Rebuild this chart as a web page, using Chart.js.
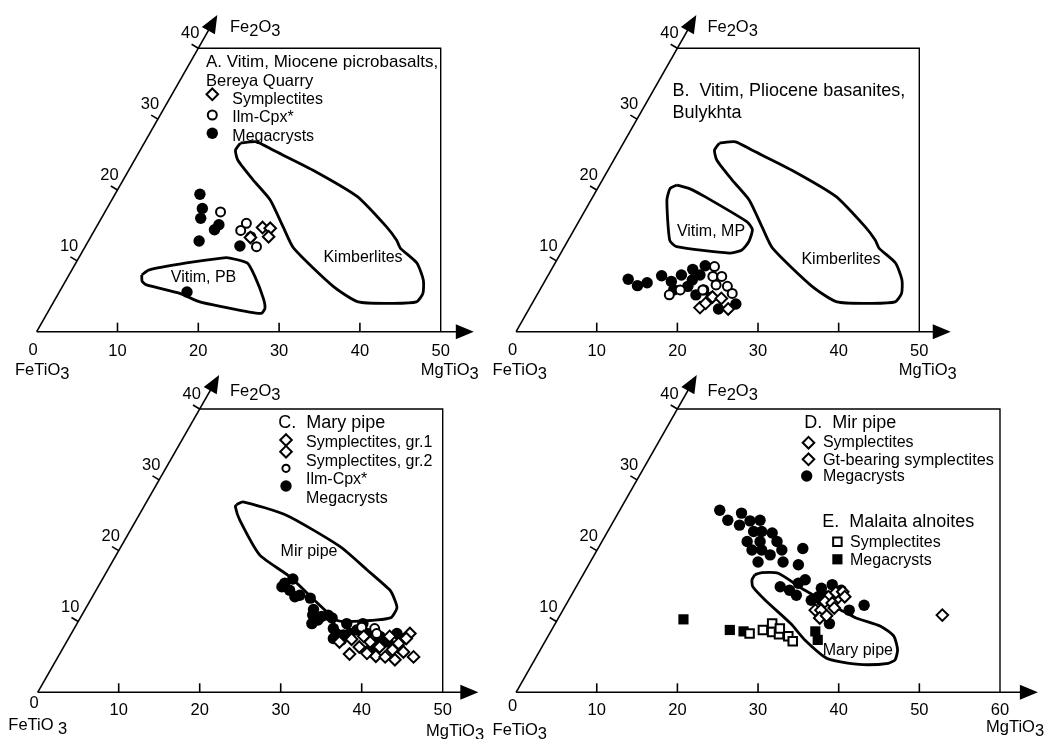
<!DOCTYPE html>
<html><head><meta charset="utf-8">
<script src="https://cdn.jsdelivr.net/npm/chart.js@4.4.1/dist/chart.umd.min.js"></script>
<style>
html,body{margin:0;padding:0;background:#fff;width:1046px;height:739px;overflow:hidden}
canvas{position:absolute;left:0;top:0}
</style></head><body>
<canvas id="cA" width="1046" height="739"></canvas>
<canvas id="cB" width="1046" height="739"></canvas>
<canvas id="cC" width="1046" height="739"></canvas>
<canvas id="cD" width="1046" height="739"></canvas>
<script>
// ---- tick labels ----
const xTicks50 = [0, 10, 20, 30, 40, 50];
const xTicks60 = [0, 10, 20, 30, 40, 50, 60];
const slantTicks = [10, 20, 30, 40];

// ---- values: [MgTiO3, Fe2O3] ----
// Panel A
const kimberlites = [[11.9,26.6],[13.8,26.8],[16.5,25.6],[22.8,22.8],[30.1,19.1],[35.9,14.8],[38.1,12.9],[39.1,11.8],[42.2,9.7],[44.2,7.3],[45.1,5.4],[44.9,4.2],[42.1,4.0],[37.7,4.2],[33.5,6.4],[25.9,11.8],[23.1,14.8],[19.6,18.6],[16.1,21.4],[12.8,24.2],[11.8,25.6]];
const vitimPB = [[9.0,8.0],[9.5,8.7],[13.7,9.7],[17.7,10.4],[18.7,10.4],[21.2,9.7],[23.1,7.8],[25.7,4.7],[26.6,3.3],[26.5,2.6],[24.8,2.8],[21.3,3.5],[18.1,4.2],[15.0,5.4],[10.3,6.6],[9.5,7.1]];
const aSymplectites = [[20.6,14.7],[21.6,14.6],[22.0,13.4],[19.8,13.3]];
const aIlmCpx = [[14.3,16.9],[18.3,15.3],[18.1,14.3],[19.8,13.4],[21.2,12.0]];
const aMegacrysts = [[10.5,19.4],[11.8,17.4],[12.3,16.0],[15.0,15.1],[14.8,14.4],[13.7,12.8],[19.1,12.1],[15.8,5.6]];
// Panel B
const vitimMP = [[9.6,20.7],[11.4,20.2],[13.8,19.1],[20.9,15.5],[22.1,14.4],[22.5,12.7],[22.2,11.5],[20.9,11.1],[13.9,12.0],[12.6,12.9],[9.4,18.6],[9.0,20.2]];
const bSymplectites = [[21.1,3.4],[21.5,4.0],[21.9,4.9],[24.7,3.2],[23.1,4.7]];
const bIlmCpx = [[20.0,9.2],[20.5,7.8],[21.6,7.8],[21.5,6.6],[23.0,6.4],[24.1,5.4],[16.4,5.2],[17.4,5.9],[20.2,5.9],[21.7,4.9]];
const bMegacrysts = [[10.2,7.4],[11.8,6.5],[12.8,6.9],[14.1,7.9],[15.7,7.1],[16.5,8.0],[17.5,8.8],[18.8,9.3],[18.1,6.4],[19.7,5.2],[20.3,5.9],[23.5,3.2],[25.3,3.9],[18.2,7.3],[18.8,8.0],[16.6,5.9]];
// Panel C
const mirPipeField = [[11.3,26.5],[11.9,26.9],[18.2,25.0],[27.0,20.6],[32.0,17.3],[36.3,14.4],[37.6,13.0],[38.4,11.9],[38.3,10.5],[34.0,10.0],[31.8,10.2],[23.0,16.3],[17.7,19.4],[12.8,24.3],[11.3,26.2]];
const cSymplGr1 = [[33.7,7.1],[35.8,5.4],[35.0,7.5],[36.5,6.4],[37.9,5.5],[39.2,5.1],[40.4,5.0],[41.8,4.6],[42.3,5.7],[43.9,5.0]];
const cSymplGr2 = [[36.3,7.9],[39.5,7.9],[40.8,6.0],[41.1,6.9],[41.8,8.3],[37.5,7.1],[39.0,6.4],[41.7,7.6]];
const cIlmCpx = [[37.1,9.0],[37.7,8.3],[35.4,9.2]];
const cMegacrysts = [[22.7,14.9],[23.5,16.0],[22.8,15.4],[23.9,14.4],[25.0,13.5],[25.5,13.7],[27.0,13.3],[28.2,11.7],[29.0,9.7],[28.5,10.9],[29.7,10.7],[30.4,10.9],[32.0,9.0],[33.3,9.7],[35.3,9.7],[32.7,8.3],[33.8,7.4],[34.4,8.3],[36.5,8.3],[38.0,6.9],[38.3,7.9],[40.2,8.3],[38.0,6.0],[41.6,6.2],[35.0,8.8],[39.3,7.4],[29.5,10.2],[31.1,10.5],[32.7,7.6],[33.7,8.1],[39.7,7.1],[41.1,7.6]];
// Panel D / E
const maryPipeField = [[21.3,16.6],[22.0,16.9],[24.1,16.8],[28.6,14.4],[34.5,11.6],[36.9,10.5],[40.6,9.3],[42.9,7.9],[44.3,6.0],[44.7,4.6],[44.1,4.1],[41.1,3.9],[38.1,4.3],[36.1,4.8],[32.1,7.4],[29.2,9.7],[24.4,13.0],[21.9,14.9],[21.3,15.9]];
const dSymplectites = [[31.3,11.6],[32.0,11.6],[32.4,10.5],[33.1,10.8],[31.9,12.8],[32.9,12.6],[33.5,11.9]];
const dGtSymplectites = [[32.0,13.5],[33.2,13.3],[32.6,14.1],[33.4,14.2],[34.0,13.5],[47.4,10.9]];
const dMegacrysts = [[12.4,25.7],[14.1,24.3],[15.9,23.6],[15.3,25.3],[16.9,24.2],[18.1,24.3],[18.1,22.7],[19.1,22.7],[20.5,22.5],[18.0,21.3],[19.6,21.3],[21.7,21.3],[19.2,20.1],[20.4,20.1],[21.8,19.4],[22.9,20.1],[25.4,20.3],[20.8,18.4],[23.9,18.4],[26.0,18.0],[25.3,14.9],[26.7,14.4],[27.9,13.7],[27.3,15.4],[27.9,15.9],[30.7,13.5],[30.1,13.0],[30.5,14.7],[31.6,15.2],[34.0,9.7],[33.1,14.4],[35.5,11.6],[37.0,12.3],[31.3,13.0],[31.6,13.6]];
const eSymplectites = [[24.8,8.3],[26.2,8.8],[26.9,9.7],[27.5,8.5],[28.5,8.2],[29.8,7.9],[30.7,7.2],[28.2,9.0]];
const eMegacrysts = [[15.6,10.3],[22.1,8.8],[23.9,8.6],[32.8,8.6],[33.7,7.4]];

// ---- styles ----
const FONT = '"Liberation Sans", Arial, Helvetica, sans-serif';
const ST = {
  filled:  {pointStyle:'circle',  pointRadius:5.7, pointBackgroundColor:'#000', pointBorderColor:'#000', pointBorderWidth:0, order:5},
  open:    {pointStyle:'circle',  pointRadius:4.5, pointBackgroundColor:'#fff', pointBorderColor:'#000', pointBorderWidth:2, order:4},
  smallOpen:{pointStyle:'circle', pointRadius:3.6, pointBackgroundColor:'#fff', pointBorderColor:'#000', pointBorderWidth:2, order:4},
  diamond: {pointStyle:'rectRot', pointRadius:5.8, pointBackgroundColor:'#fff', pointBorderColor:'#000', pointBorderWidth:2, order:3},
  sqOpen:  {pointStyle:'rect',    pointRadius:6.0, pointBackgroundColor:'#fff', pointBorderColor:'#000', pointBorderWidth:2, order:3},
  sqFilled:{pointStyle:'rect',    pointRadius:7.2, pointBackgroundColor:'#000', pointBorderColor:'#000', pointBorderWidth:0, order:4}
};

function toXY(arr){ return arr.map(p => ({x: p[0] + p[1] / 2, y: p[1]})); }
function pts(arr, style){
  const s = ST[style];
  return Object.assign({data: toXY(arr), showLine:false, clip:false, pointHoverRadius:s.pointRadius}, s);
}
function field(arr){
  return {data: toXY(arr.concat([arr[0]])), showLine:true, fill:false, tension:0.2, borderColor:'#000', borderWidth:2.8, pointRadius:0, clip:false, order:10};
}

function drawMarker(ctx, style, x, y){
  const st = ST[style];
  ctx.save();
  ctx.fillStyle = st.pointBackgroundColor; ctx.strokeStyle = st.pointBorderColor; ctx.lineWidth = st.pointBorderWidth;
  ctx.beginPath();
  const r = st.pointRadius;
  if (st.pointStyle === 'circle') ctx.arc(x, y, r, 0, Math.PI * 2);
  else if (st.pointStyle === 'rectRot') { ctx.moveTo(x, y - r); ctx.lineTo(x + r, y); ctx.lineTo(x, y + r); ctx.lineTo(x - r, y); ctx.closePath(); }
  else { const h = r * Math.SQRT1_2; ctx.rect(x - h, y - h, 2 * h, 2 * h); }
  ctx.fill(); if (st.pointBorderWidth > 0) ctx.stroke();
  ctx.restore();
}
function drawChem(ctx, parts, x, y, size){
  let cx = x;
  ctx.font = size + 'px ' + FONT;
  ctx.textAlign = 'left'; ctx.textBaseline = 'middle';
  for (const [t, sub] of parts){
    ctx.fillText(t, cx, y + (sub ? 4 : 0));
    cx += ctx.measureText(t).width;
  }
}
function arrowHead(ctx, x0, y0, x1, y1){
  const a = Math.atan2(y1 - y0, x1 - x0), L = 18, W = 7.5;
  const bx = x1 - L * Math.cos(a), by = y1 - L * Math.sin(a);
  ctx.beginPath();
  ctx.moveTo(x1, y1);
  ctx.lineTo(bx + W * Math.sin(a), by - W * Math.cos(a));
  ctx.lineTo(bx - W * Math.sin(a), by + W * Math.cos(a));
  ctx.closePath(); ctx.fill();
}

const decor = {
  id: 'decor',
  beforeDatasetsDraw(chart, args, o){
    const ctx = chart.ctx, xs = chart.scales.x, ys = chart.scales.y;
    const P = (mg, fe) => [xs.getPixelForValue(mg + fe / 2), ys.getPixelForValue(fe)];
    ctx.save();
    ctx.strokeStyle = '#000'; ctx.fillStyle = '#000';
    // frame
    ctx.lineWidth = 1.4;
    const b0 = P(0, 40), b1 = P(o.xMax - 20, 40), b2 = P(o.xMax, 0);
    ctx.beginPath(); ctx.moveTo(b0[0], b0[1]); ctx.lineTo(b1[0], b1[1]); ctx.lineTo(b2[0], b2[1]); ctx.stroke();
    // axes
    ctx.lineWidth = 1.6;
    const O = P(0, 0), X = P(o.xArrow, 0), F = P(0, o.fArrow);
    ctx.beginPath(); ctx.moveTo(O[0], O[1]); ctx.lineTo(X[0] - 10, X[1]); ctx.stroke();
    arrowHead(ctx, O[0], O[1], X[0], X[1]);
    const ang = Math.atan2(F[1] - O[1], F[0] - O[0]);
    ctx.beginPath(); ctx.moveTo(O[0], O[1]); ctx.lineTo(F[0] - 10 * Math.cos(ang), F[1] - 10 * Math.sin(ang)); ctx.stroke();
    arrowHead(ctx, O[0], O[1], F[0], F[1]);
    // x ticks + labels
    ctx.font = '16.5px ' + FONT; ctx.textAlign = 'center'; ctx.textBaseline = 'middle';
    o.ticks.forEach(v => {
      const p = P(v, 0);
      if (v !== 0 && v !== o.xMax){ ctx.beginPath(); ctx.moveTo(p[0], p[1]); ctx.lineTo(p[0], p[1] - 9); ctx.stroke(); }
      if (v === 0) ctx.fillText(String(v), p[0] - 3.5, p[1] + o.zeroDy);
      else ctx.fillText(String(v), p[0], p[1] + o.tickDy);
    });
    // slant ticks + labels
    slantTicks.forEach(v => {
      const p = P(0, v);
      ctx.beginPath(); ctx.moveTo(p[0], p[1]); ctx.lineTo(p[0] - 6.7, p[1] - 4); ctx.stroke();
      ctx.fillText(String(v), p[0] - 8, p[1] - 14.5);
    });
    ctx.restore();
  },
  afterDraw(chart, args, o){
    const ctx = chart.ctx;
    ctx.save(); ctx.fillStyle = '#000';
    o.chem.forEach(c => drawChem(ctx, c.parts, c.x, c.y, 16.5));
    o.texts.forEach(t => {
      ctx.font = t[0] + 'px ' + FONT; ctx.textBaseline = 'middle'; ctx.textAlign = t[4] || 'left';
      ctx.fillText(t[3], t[1], t[2]);
    });
    o.legend.forEach(m => drawMarker(ctx, m[0], m[1], m[2]));
    ctx.restore();
  }
};

const FE2O3 = [['Fe',0],['2',1],['O',0],['3',1]];
const FETIO3 = [['FeTiO',0],['3',1]];
const FETIO3SP = [['FeTiO ',0],['3',1]];
const MGTIO3 = [['MgTiO',0],['3',1]];

const panels = [
  { id:'cA', ox:36.7, oy:331.7, xEnd:440.7, top:48.3, xMax:50, xArrow:54.1, fArrow:44.7, ticks:xTicks50, zeroDy:18.5, tickDy:19.5,
    datasets:[field(kimberlites), field(vitimPB), pts(aMegacrysts,'filled'), pts(aIlmCpx,'open'), pts(aSymplectites,'diamond')],
    chem:[{parts:FE2O3,x:230,y:27.5},{parts:FETIO3,x:15,y:370.7},{parts:MGTIO3,x:420.7,y:370.7}],
    texts:[[17,206,62.7,'A. Vitim, Miocene picrobasalts,'],[16.5,206,81.7,'Bereya Quarry'],
           [16,232.3,100,'Symplectites'],[16,232.3,118,'Ilm-Cpx*'],[16,232.3,136.7,'Megacrysts'],
           [16,203.5,278,'Vitim, PB','center'],[16,363,258,'Kimberlites','center']],
    legend:[['diamond',212.3,94.3],['open',212.3,115],['filled',212.3,133.3]] },
  { id:'cB', ox:516.1, oy:331.7, xEnd:919.3, top:48.3, xMax:50, xArrow:53.9, fArrow:44.7, ticks:xTicks50, zeroDy:19, tickDy:20,
    datasets:[field(kimberlites), field(vitimMP), pts(bMegacrysts,'filled'), pts(bIlmCpx,'open'), pts(bSymplectites,'diamond')],
    chem:[{parts:FE2O3,x:707.4,y:27.5},{parts:FETIO3,x:492.6,y:370.7},{parts:MGTIO3,x:898.7,y:370.7}],
    texts:[[18,672.4,90.7,'B.  Vitim, Pliocene basanites,'],[18,672.4,112.7,'Bulykhta'],
           [16,711,231.7,'Vitim, MP','center'],[16,841,259.3,'Kimberlites','center']],
    legend:[] },
  { id:'cC', ox:37.7, oy:692.3, xEnd:442.7, top:409, xMax:50, xArrow:54.4, fArrow:44.8, ticks:xTicks50, zeroDy:11, tickDy:18.5,
    datasets:[field(mirPipeField), pts(cMegacrysts,'filled'), pts(cIlmCpx,'open'), pts(cSymplGr2,'diamond'), pts(cSymplGr1,'diamond')],
    chem:[{parts:FE2O3,x:230,y:391},{parts:FETIO3SP,x:8.3,y:725},{parts:MGTIO3,x:426,y:731}],
    texts:[[18,278.3,423.3,'C.  Mary pipe'],[16,306,442.7,'Symplectites, gr.1'],[16,306,461.7,'Symplectites, gr.2'],
           [16,306,480,'Ilm-Cpx*'],[16,306,498.3,'Megacrysts'],[16,309,551.7,'Mir pipe','center']],
    legend:[['diamond',286,440],['diamond',286,451.7],['smallOpen',286,468.3],['filled',286,486]] },
  { id:'cD', ox:516.1, oy:692.3, xEnd:1000, top:409, xMax:60, xArrow:64.7, fArrow:44.8, ticks:xTicks60, zeroDy:14.4, tickDy:18.5,
    datasets:[field(maryPipeField), pts(dMegacrysts,'filled'), pts(eMegacrysts,'sqFilled'), pts(eSymplectites,'sqOpen'), pts(dSymplectites,'diamond'), pts(dGtSymplectites,'diamond')],
    chem:[{parts:FE2O3,x:707.4,y:391},{parts:FETIO3,x:492.6,y:730},{parts:MGTIO3,x:986,y:727}],
    texts:[[18,804.2,423.3,'D.  Mir pipe'],[16,822.9,442.7,'Symplectites'],[16.3,822.9,460.7,'Gt-bearing symplectites'],
           [16,822.9,476.7,'Megacrysts'],[18,822.2,522.3,'E.  Malaita alnoites'],[16,850,542.3,'Symplectites'],
           [16,850,560.7,'Megacrysts'],[16,857.8,650.7,'Mary pipe','center']],
    legend:[['diamond',808.5,442.7],['diamond',808.5,459.3],['filled',806.7,476],['sqOpen',837.4,541.7],['sqFilled',837.4,559.3]] }
];

panels.forEach(p => {
  new Chart(document.getElementById(p.id), {
    type: 'scatter',
    data: { datasets: p.datasets },
    options: {
      responsive: false, animation: false, devicePixelRatio: 1, events: [],
      layout: { padding: { left: p.ox, right: 1046 - p.xEnd, top: p.top, bottom: 739 - p.oy } },
      scales: {
        x: { type: 'linear', min: 0, max: p.xMax, display: false },
        y: { type: 'linear', min: 0, max: 40, display: false }
      },
      plugins: { legend: { display: false }, tooltip: { enabled: false }, decor: p }
    },
    plugins: [decor]
  });
});
</script>
</body></html>
